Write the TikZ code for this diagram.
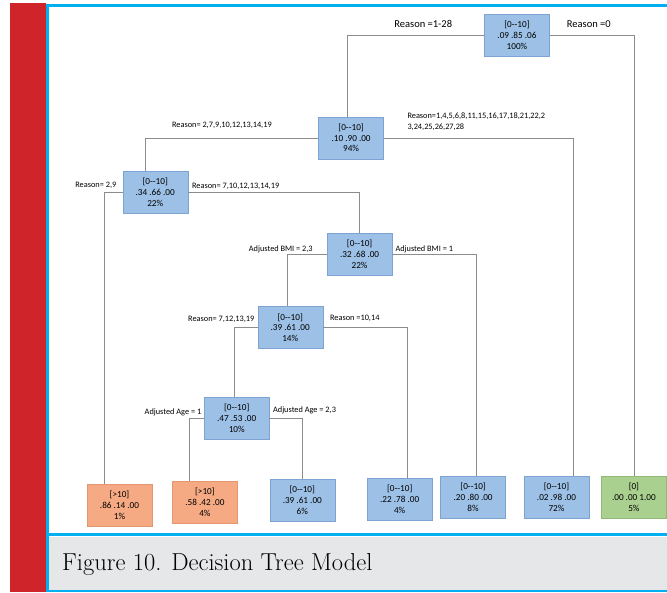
\documentclass[tikz,border=0pt]{standalone}
\usepackage{fontspec}
\usepackage{xcolor}
\usepackage{tikz}
\usetikzlibrary{positioning}
\newfontfamily\treefont{Carlito}
\definecolor{framered}{RGB}{208,36,43}
\definecolor{frameblue}{RGB}{0,176,240}
\definecolor{capgray}{RGB}{230,231,233}
\definecolor{nodeblue}{RGB}{157,193,230}
\definecolor{nodeblueline}{RGB}{125,163,210}
\definecolor{nodeorange}{RGB}{245,170,132}
\definecolor{nodeorangeline}{RGB}{228,150,115}
\definecolor{nodegreen}{RGB}{170,208,143}
\definecolor{nodegreenline}{RGB}{145,185,120}

\begin{document}
\begin{tikzpicture}[
  x=1pt, y=-1pt,
  node distance=20pt and 20pt,
  tbox/.style={draw, minimum width=65pt, minimum height=42pt, inner sep=1pt, align=center, font=\treefont\fontsize{9.2}{10.8}\selectfont},
  blu/.style={tbox, fill=nodeblue, draw=nodeblueline},
  org/.style={tbox, fill=nodeorange, draw=nodeorangeline},
  grn/.style={tbox, fill=nodegreen, draw=nodegreenline},
  lbl/.style={inner sep=0pt, align=left, font=\treefont\fontsize{8.3}{11}\selectfont},
  toplbl/.style={lbl, font=\treefont\fontsize{10.5}{12}\selectfont},
  conn/.style={draw=black!45, line width=0.8pt}
]
\useasboundingbox (0,0) rectangle (667,592);
\fill[framered] (10,3) rectangle (46,592);
\fill[capgray] (49,537) rectangle (667,591);
\draw[frameblue, line width=3pt] (667,5.5) -- (47.5,5.5) -- (47.5,592);
\draw[frameblue, line width=3pt] (49,534) -- (667,534);
\draw[frameblue, line width=1.2pt] (49,591) -- (667,591);

\node[blu] (root) at (517,35) {[0--10]\\.09 .85 .06\\100\%};
\node[blu, below left=60.5pt and 100.5pt of root] (n94) {[0--10]\\.10 .90 .00\\94\%};
\node[blu, below left=12pt and 130.5pt of n94] (n22a) {[0--10]\\.34 .66 .00\\22\%};
\node[blu, below right=19.5pt and 139pt of n22a] (n22b) {[0--10]\\.32 .68 .00\\22\%};
\node[blu, below left=31pt and 4pt of n22b] (n14) {[0--10]\\.39 .61 .00\\14\%};
\node[blu, below=48pt of n14, xshift=-53.5pt] (n10) {[0--10]\\.47 .53 .00\\10\%};

\node[org] (L1) at (119.5,505) {[>10]\\.86 .14 .00\\1\%};
\node[org, right=20pt of L1, yshift=2.5pt] (L2) {[>10]\\.58 .42 .00\\4\%};
\node[blu, right=32pt of L2, yshift=2.5pt] (L3) {[0--10]\\.39 .61 .00\\6\%};
\node[blu, right=32pt of L3, yshift=1pt] (L4) {[0--10]\\.22 .78 .00\\4\%};
\node[blu, right=8pt of L4, yshift=1.5pt] (L5) {[0--10]\\.20 .80 .00\\8\%};
\node[blu, right=18pt of L5, yshift=0.5pt] (L6) {[0--10]\\.02 .98 .00\\72\%};
\node[grn, right=12pt of L6] (L7) {[0]\\.00 .00 1.00\\5\%};

\node[toplbl, left=32pt of root.west, yshift=11pt] (lrootL) {Reason =1-28};
\node[toplbl, right=17pt of root.east, yshift=11pt] (lrootR) {Reason =0};
\node[lbl, left=46.5pt of n94.west, yshift=12.5pt] (l94L) {Reason= 2,7,9,10,12,13,14,19};
\node[lbl, right=23.5pt of n94.east, yshift=16.5pt] (l94R) {Reason=1,4,5,6,8,11,15,16,17,18,21,22,2\\3,24,25,26,27,28};
\node[lbl, left=6pt of n22a.west, yshift=6.5pt] (l22aL) {Reason= 2,9};
\node[lbl, right=4pt of n22a.east, yshift=5.5pt] (l22aR) {Reason= 7,10,12,13,14,19};
\node[lbl, left=14pt of n22b.west, yshift=5pt] (l22bL) {Adjusted BMI = 2,3};
\node[lbl, right=3pt of n22b.east, yshift=5pt] (l22bR) {Adjusted BMI = 1};
\node[lbl, left=3pt of n14.west, yshift=8pt] (l14L) {Reason= 7,12,13,19};
\node[lbl, right=7pt of n14.east, yshift=9pt] (l14R) {Reason =10,14};
\node[lbl, left=2.5pt of n10.west, yshift=6pt] (l10L) {Adjusted Age = 1};
\node[lbl, right=3.5pt of n10.east, yshift=8pt] (l10R) {Adjusted Age = 2,3};

\draw[conn] (root.west) -| ([xshift=-4pt]n94.north);
\draw[conn] (root.east) -| (L7.north);
\draw[conn] (n94.west) -| ([xshift=-10pt]n22a.north);
\draw[conn] (n94.east) -| ([xshift=17pt]L6.north);
\draw[conn] (n22a.west) -| ([xshift=-15pt]L1.north);
\draw[conn] (n22a.east) -| (n22b.north);
\draw[conn] (n22b.west) -| ([xshift=-3pt]n14.north);
\draw[conn] (n22b.east) -| ([xshift=3pt]L5.north);
\draw[conn] (n14.west) -| ([xshift=-2pt]n10.north);
\draw[conn] (n14.east) -| ([xshift=8pt]L4.north);
\draw[conn] (n10.west) -| ([xshift=-16pt]L2.north);
\draw[conn] (n10.east) -| (L3.north);

\node[anchor=west, inner sep=0pt, font=\fontsize{24.5}{28}\selectfont] (cap) at (62,564) {Figure 10. Decision Tree Model};
\end{tikzpicture}
\end{document}
